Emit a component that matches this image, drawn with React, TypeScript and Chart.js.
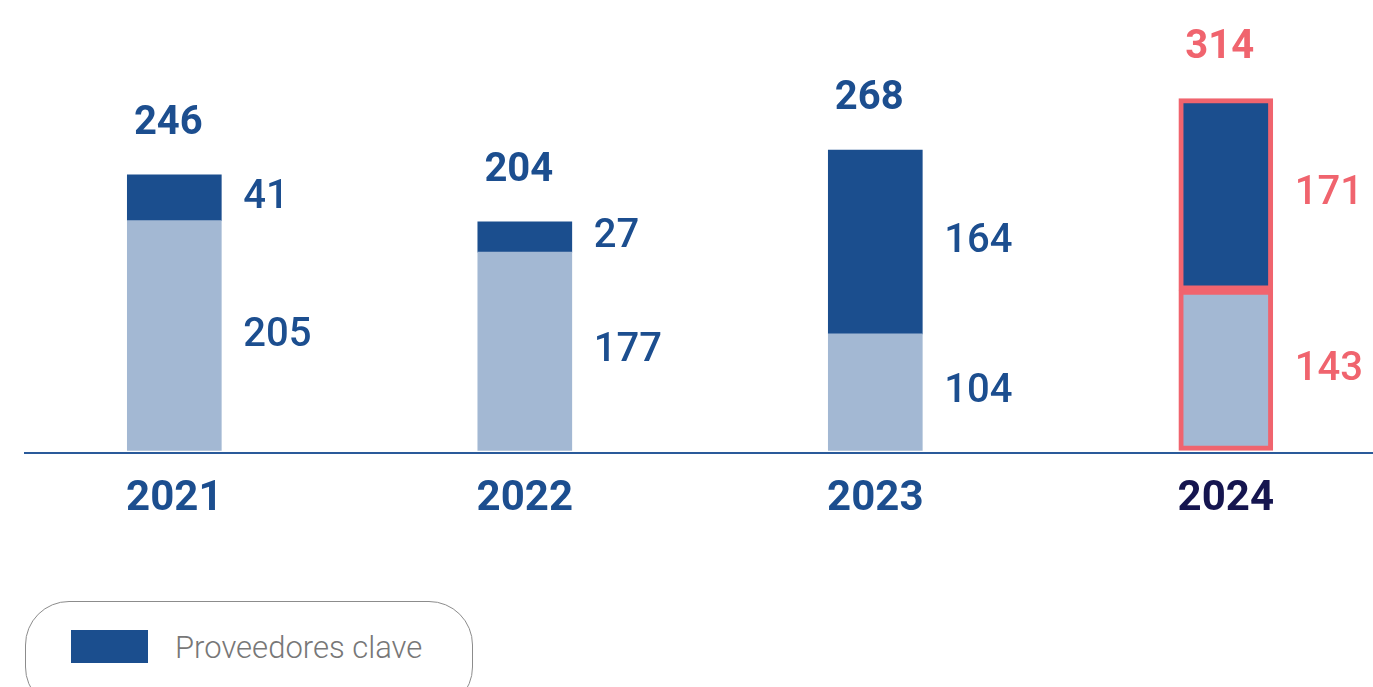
import React, { useEffect, useRef } from "react";
import { Chart, registerables } from "chart.js";

Chart.register(...registerables);

const years = ["2021", "2022", "2023", "2024"];
const otherSuppliers = [205, 177, 104, 143];
const keySuppliers = [41, 27, 164, 171];
const totals = [246, 204, 268, 314];
const legendLabel = "Proveedores clave";
const otherLabel = "Otros proveedores";

const DARK = "#1b4e8e";
const LIGHT = "#a3b8d3";
const RED = "#f0646e";
const BLUE_TEXT = "#1c4e8f";
const NAVY = "#15154f";
const HL = 3;

const labelPlugin = {
  id: "valueLabels",
  afterDatasetsDraw(chart: any) {
    const ctx = chart.ctx;
    ctx.save();
    chart.data.datasets.forEach((ds: any, di: number) => {
      const meta = chart.getDatasetMeta(di);
      meta.data.forEach((el: any, i: number) => {
        const p = el.getProps(["x", "y", "base", "width"], true);
        ctx.font = "500 40px Roboto";
        ctx.fillStyle = i === HL ? RED : BLUE_TEXT;
        ctx.textAlign = "left";
        ctx.textBaseline = "middle";
        ctx.fillText(String(ds.data[i].y), p.x + p.width / 2 + 22, (p.y + p.base) / 2);
      });
    });
    const topMeta = chart.getDatasetMeta(chart.data.datasets.length - 1);
    topMeta.data.forEach((el: any, i: number) => {
      const p = el.getProps(["x", "y"], true);
      ctx.font = "700 40px Roboto";
      ctx.fillStyle = i === HL ? RED : BLUE_TEXT;
      ctx.textAlign = "center";
      ctx.textBaseline = "middle";
      ctx.fillText(String(totals[i]), p.x - 6, p.y - 51);
    });
    ctx.restore();
  },
};

export default function App() {
  const canvasRef = useRef<HTMLCanvasElement>(null);

  useEffect(() => {
    if (!canvasRef.current) return;
    const border = (c: any) => (c.dataIndex === HL ? 5 : 0);
    const chart = new Chart(canvasRef.current, {
      type: "bar",
      data: {
        datasets: [
          {
            label: otherLabel,
            data: otherSuppliers.map((v, i) => ({ x: i, y: v })),
            backgroundColor: LIGHT,
            borderColor: RED,
            borderWidth: border,
            borderSkipped: false,
            barThickness: 94,
          },
          {
            label: legendLabel,
            data: keySuppliers.map((v, i) => ({ x: i, y: v })),
            backgroundColor: DARK,
            borderColor: RED,
            borderWidth: border,
            borderSkipped: false,
            barThickness: 94,
          },
        ],
      },
      options: {
        animation: false,
        responsive: true,
        maintainAspectRatio: false,
        layout: { padding: { left: 25, right: 0, top: 0, bottom: 1 } },
        plugins: {
          legend: { display: false },
          tooltip: { enabled: false },
        },
        scales: {
          x: {
            type: "linear",
            stacked: true,
            offset: false,
            min: -0.426,
            max: 3.42,
            afterBuildTicks: (axis: any) => {
              axis.ticks = years.map((_, i) => ({ value: i }));
            },
            grid: { display: false, drawTicks: false, offset: false },
            border: { display: true, color: "#2a5a9a", width: 2 },
            ticks: {
              padding: 22,
              autoSkip: false,
              maxRotation: 0,
              font: { family: "Roboto", size: 42, weight: "bold" },
              color: (c: any) => (c.index === HL ? NAVY : BLUE_TEXT),
              callback: (v: any) => years[v] ?? "",
            },
          },
          y: {
            stacked: true,
            display: false,
            min: -2,
            max: 402,
          },
        },
      },
      plugins: [labelPlugin],
    } as any);
    return () => chart.destroy();
  }, []);

  return (
    <div
      style={{
        position: "fixed",
        left: 0,
        top: 0,
        width: 1373,
        height: 687,
        overflow: "hidden",
        background: "#fff",
        fontFamily: "Roboto",
      }}
    >
      <div style={{ position: "absolute", left: 0, top: 0, width: 1373, height: 548 }}>
        <canvas ref={canvasRef} />
      </div>
      <div
        style={{
          position: "absolute",
          left: 25,
          top: 601,
          width: 448,
          height: 110,
          boxSizing: "border-box",
          border: "1.5px solid #8c8c8c",
          borderRadius: 44,
        }}
      >
        <div
          style={{
            position: "absolute",
            left: 45,
            top: 28,
            width: 77,
            height: 33,
            background: DARK,
          }}
        />
        <div
          style={{
            position: "absolute",
            left: 149,
            top: 30,
            fontSize: 31,
            lineHeight: "31px",
            fontWeight: 300,
            color: "#777777",
            whiteSpace: "nowrap",
          }}
        >
          {legendLabel}
        </div>
      </div>
    </div>
  );
}
